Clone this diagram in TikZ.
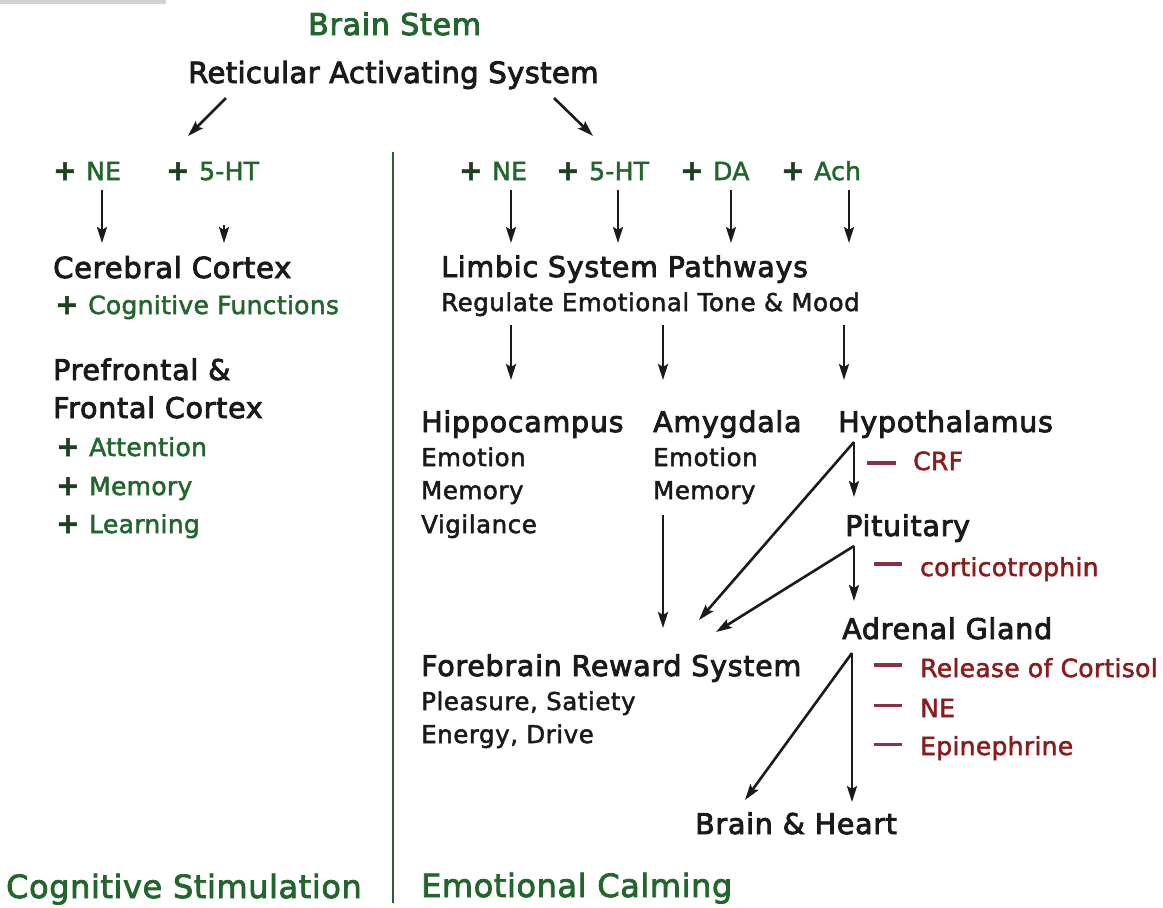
\documentclass[tikz,border=0pt]{standalone}
\usepackage{fontspec}
\setmainfont{DejaVu Sans}
\newfontfamily\hfont{DejaVu Sans}[FakeBold=3, LetterSpace=2.6]
\newfontfamily\rfont{DejaVu Sans}[FakeBold=3, LetterSpace=1]
\newfontfamily\sfont{DejaVu Sans}[FakeBold=2, LetterSpace=2.2]
\newfontfamily\gfont{DejaVu Sans}[FakeBold=2, LetterSpace=1.2]
\newfontfamily\ffont{DejaVu Sans}[FakeBold=2.5, LetterSpace=1.8]
\usetikzlibrary{arrows.meta}
\definecolor{tgreen}{HTML}{22662E}
\definecolor{tplus}{HTML}{1C3F1E}
\definecolor{tred}{HTML}{8A1C1C}
\definecolor{tdash}{HTML}{8A3040}
\definecolor{tblack}{HTML}{1A1A1A}
\definecolor{tline}{HTML}{2E5E2E}
\newcommand{\pl}{\makebox[33pt][l]{\textcolor{tplus}{\fontsize{28}{28}\selectfont\bfseries +}}}
\begin{document}
\begin{tikzpicture}[x=1pt,y=-1pt,
  txt/.style={inner sep=0pt, anchor=base west, text=tblack},
  title/.style={txt, font=\hfont\fontsize{30}{33}\selectfont},
  head/.style={txt, font=\hfont\fontsize{28.5}{30}\selectfont},
  sub/.style={txt, font=\sfont\fontsize{24.5}{26}\selectfont},
  grn/.style={txt, text=tgreen, font=\gfont\fontsize{25}{26}\selectfont},
  redt/.style={txt, text=tred, font=\gfont\fontsize{25}{26}\selectfont},
  foot/.style={txt, text=tgreen, font=\ffont\fontsize{32}{34}\selectfont},
  arr/.style={line width=2.6pt, draw=tblack, -{Stealth[length=16pt,width=10pt,inset=3pt]}},
  rdash/.style={line width=4pt, draw=tdash},
  divider/.style={line width=2.8pt, draw=tline}
]
\useasboundingbox (0,0) rectangle (1163,908);
\fill[gray!35] (0,0) rectangle (166,4);

% top
\node[title, text=tgreen] (bstem) at (308,35) {Brain Stem};
\node[txt, font=\rfont\fontsize{29.2}{31}\selectfont] (ras) at (188,83) {Reticular Activating System};
\coordinate (rasL) at (226,98);
\coordinate (cogT) at (188,136);
\coordinate (rasR) at (554,98);
\coordinate (emoT) at (593,136);
\draw[arr] (rasL) -- (cogT);
\draw[arr] (rasR) -- (emoT);

% divider
\coordinate (divT) at (393,152);
\coordinate (divB) at (393,903);
\draw[divider] (divT) -- (divB);

% left column
\node[grn] (lne) at (53,180) {\pl NE};
\node[grn] (l5ht) at (166,180) {\pl 5-HT};
\coordinate (lneA) at (102,190);
\coordinate (lneB) at (102,243);
\coordinate (l5A) at (224,225);
\coordinate (l5B) at (224,243);
\draw[arr] (lneA) -- (lneB);
\draw[arr] (l5A) -- (l5B);
\node[head, font=\hfont\fontsize{29}{30}\selectfont] (cc) at (53,278) {Cerebral Cortex};
\node[grn] (cf) at (55,314) {\pl Cognitive Functions};
\node[head] (pf1) at (53,380) {Prefrontal \&};
\node[head] (pf2) at (53,418) {Frontal Cortex};
\node[grn] (att) at (56,456) {\pl Attention};
\node[grn] (mem) at (56,495) {\pl Memory};
\node[grn] (lrn) at (56,533) {\pl Learning};
\node[foot] (cs) at (6,898) {Cognitive Stimulation};

% right column: neurotransmitters
\node[grn] (rne) at (459,180) {\pl NE};
\node[grn] (r5ht) at (556,180) {\pl 5-HT};
\node[grn] (rda) at (680,180) {\pl DA};
\node[grn] (rach) at (781,180) {\pl Ach};
\foreach \x/\n in {511/a,618/b,731/c,849/d}{
  \coordinate (t\n) at (\x,190);
  \coordinate (u\n) at (\x,243);
  \draw[arr] (t\n) -- (u\n);
}
\node[head] (lsp) at (441,277) {Limbic System Pathways};
\node[sub] (reg) at (441,311) {Regulate Emotional Tone \& Mood};
\foreach \x/\n in {511/a,663/b,844/c}{
  \coordinate (v\n) at (\x,325);
  \coordinate (w\n) at (\x,380);
  \draw[arr] (v\n) -- (w\n);
}

% second level
\node[head] (hip) at (421,432) {Hippocampus};
\node[sub] (hip1) at (421,466) {Emotion};
\node[sub] (hip2) at (421,499) {Memory};
\node[sub] (hip3) at (421,533) {Vigilance};
\node[head] (amy) at (653,432) {Amygdala};
\node[sub] (amy1) at (653,466) {Emotion};
\node[sub] (amy2) at (653,499) {Memory};
\node[head] (hyp) at (838,432) {Hypothalamus};

\coordinate (amyA) at (663,515);
\coordinate (amyB) at (663,628);
\draw[arr] (amyA) -- (amyB);

% hypothalamus -> pituitary / forebrain
\coordinate (hypApex) at (854,442);
\coordinate (hypDown) at (854,497);
\coordinate (hypDiag) at (699,620);
\draw[arr] (hypApex) -- (hypDown);
\draw[arr] (hypApex) -- (hypDiag);
\draw[rdash] (867,463) -- (896,463);
\node[redt] (crf) at (913,470) {CRF};

\node[head] (pit) at (845,536) {Pituitary};
\coordinate (pitApex) at (854,546);
\coordinate (pitDown) at (854,601);
\coordinate (pitDiag) at (716,632);
\draw[arr] (pitApex) -- (pitDown);
\draw[arr] (pitApex) -- (pitDiag);
\draw[rdash] (874,564) -- (902,564);
\node[redt] (cort) at (920,576) {corticotrophin};

\node[head] (adr) at (842,639) {Adrenal Gland};
\coordinate (adrApex) at (852,653);
\coordinate (adrDown) at (852,802);
\coordinate (adrDiag) at (745,800);
\draw[arr] (adrApex) -- (adrDown);
\draw[arr] (adrApex) -- (adrDiag);
\draw[rdash] (874,665) -- (902,665);
\node[redt] (rel) at (920,677) {Release of Cortisol};
\draw[rdash, line width=3pt] (874,705) -- (902,705);
\node[redt] (rne2) at (920,717) {NE};
\draw[rdash, line width=3pt] (874,744) -- (902,744);
\node[redt] (epi) at (920,755) {Epinephrine};

\node[head] (frs) at (421,676) {Forebrain Reward System};
\node[sub] (frs1) at (421,710) {Pleasure, Satiety};
\node[sub] (frs2) at (421,743) {Energy, Drive};

\node[head] (bh) at (695,834) {Brain \& Heart};
\node[foot] (ec) at (421,897) {Emotional Calming};
\end{tikzpicture}
\end{document}
